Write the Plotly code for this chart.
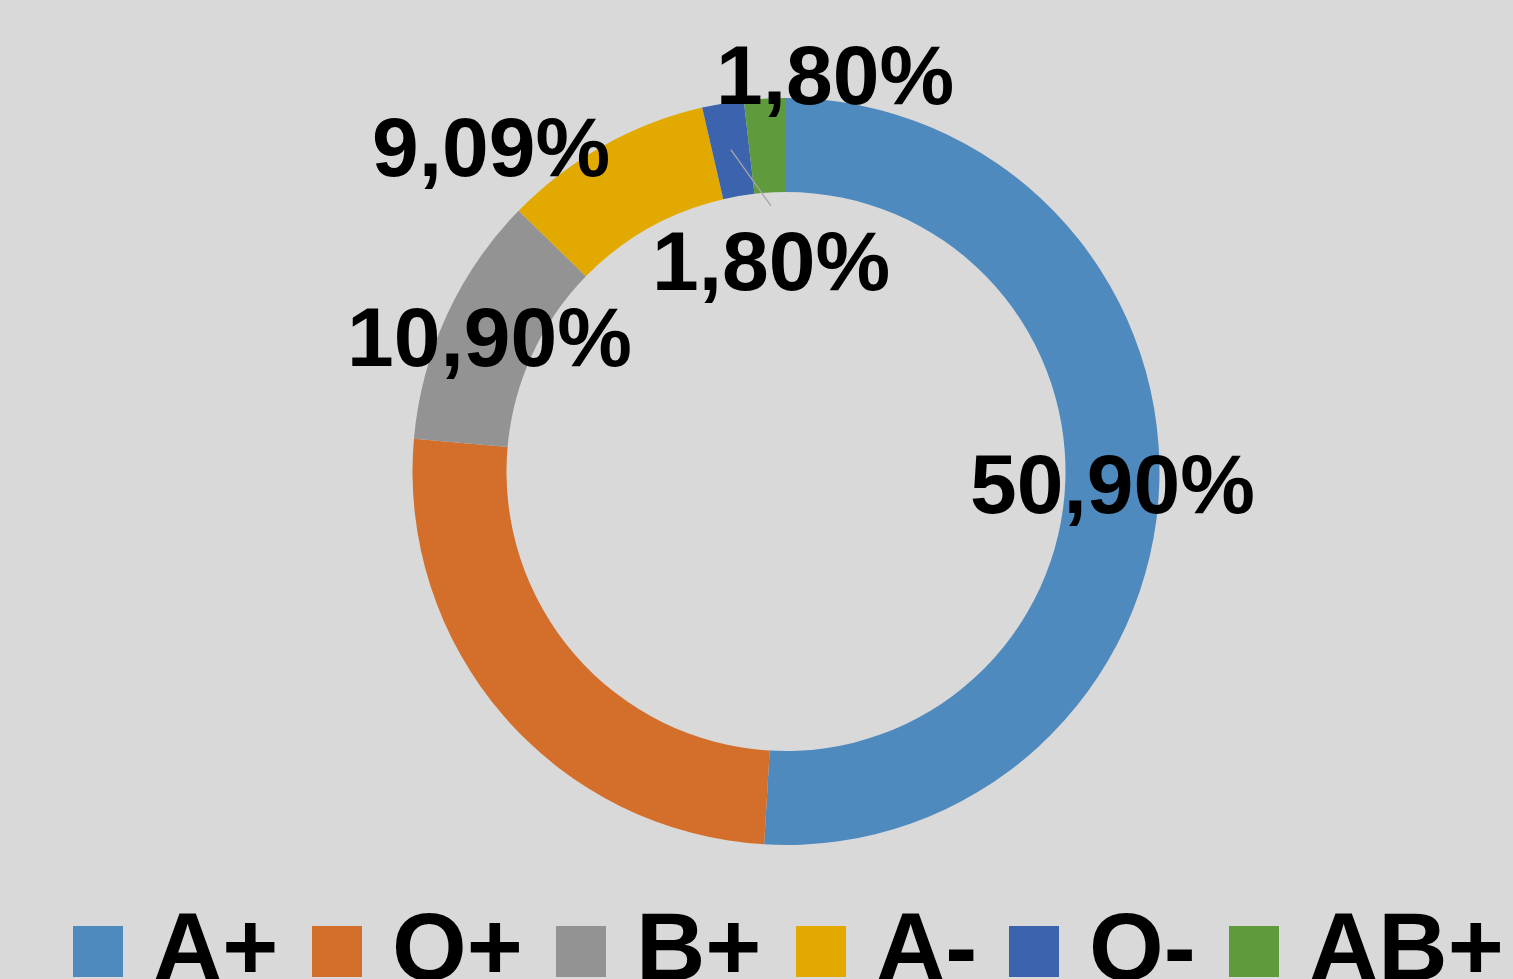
import math
import plotly.graph_objects as go

# ---- data ----
groups = ["A+", "O+", "B+", "A-", "O-", "AB+"]
percentages = [50.90, 25.45, 10.90, 9.09, 1.80, 1.80]
show_label = [True, False, True, True, True, True]

# ---- style ----
colors = ["#4F8ABE", "#D36F2B", "#939393", "#E2AA00", "#3C64AE", "#5F9A3D"]
BG = "#D9D9D9"
FONT = "Liberation Sans, Arial, sans-serif"
W, H = 1513, 979
CX, CY = 786, 471.5          # ring centre (px)
R_OUT, R_IN = 373.5, 279.5   # ring radii (px)
LABEL_SIZE = 84
LEGEND_SIZE = 96
# label nudges (px) from the mid-ring anchor of each slice
label_nudge = [(0, 3), (0, 0), (0, 2), (-135, -40), (40, 111), (67, -71)]
leader = [False, False, False, False, True, False]
legend_square_x = [73, 312, 556, 796, 1009, 1229]
legend_text_gap = 78
SQ = 50


def px_to_paper(x, y):
    return x / W, 1 - y / H


fig = go.Figure()
fig.add_trace(go.Pie(
    labels=groups,
    values=percentages,
    hole=R_IN / R_OUT,
    sort=False,
    direction="clockwise",
    rotation=0,
    marker=dict(colors=colors, line=dict(width=0)),
    textinfo="none",
    hoverinfo="label+value",
    showlegend=False,
    domain=dict(x=[(CX - R_OUT) / W, (CX + R_OUT) / W],
                y=[1 - (CY + R_OUT) / H, 1 - (CY - R_OUT) / H]),
))

annotations = []
shapes = []
total = sum(percentages)
cum = 0.0
r_mid = (R_OUT + R_IN) / 2
for i, (g, v) in enumerate(zip(groups, percentages)):
    mid = (cum + v / 2) / total * 2 * math.pi
    cum += v
    ax = CX + r_mid * math.sin(mid)
    ay = CY - r_mid * math.cos(mid)
    if not show_label[i]:
        continue
    dx, dy = label_nudge[i]
    lx, ly = ax + dx, ay + dy
    txt = f"{v:.2f}%".replace(".", ",")
    px, py = px_to_paper(lx, ly)
    annotations.append(dict(
        x=px, y=py, xref="paper", yref="paper", text=f"<b>{txt}</b>",
        showarrow=False, xanchor="center", yanchor="middle",
        font=dict(family=FONT, size=LABEL_SIZE, color="black"),
    ))
    if leader[i]:
        x0, y0 = px_to_paper(ax, ay)
        x1, y1 = px_to_paper(lx, ly - 55)
        shapes.append(dict(type="line", xref="paper", yref="paper",
                           x0=x0, y0=y0, x1=x1, y1=y1,
                           line=dict(color="#A6A6A6", width=1.3)))

# ---- manual legend ----
sq_top, sq_bot = 926, 977
baseline = 980
for i, g in enumerate(groups):
    sx = legend_square_x[i]
    x0, y0 = px_to_paper(sx, sq_bot)
    x1, y1 = px_to_paper(sx + SQ, sq_top)
    shapes.append(dict(type="rect", xref="paper", yref="paper",
                       x0=x0, y0=y0, x1=x1, y1=y1,
                       fillcolor=colors[i], line=dict(width=0)))
    tx, ty = px_to_paper(sx + legend_text_gap, baseline - 0.3465 * LEGEND_SIZE)
    annotations.append(dict(
        x=tx, y=ty, xref="paper", yref="paper", text=f"<b>{g}</b>",
        showarrow=False, xanchor="left", yanchor="middle",
        font=dict(family=FONT, size=LEGEND_SIZE, color="black"),
    ))

fig.update_layout(
    width=W, height=H,
    margin=dict(l=0, r=0, t=0, b=0),
    paper_bgcolor=BG, plot_bgcolor=BG,
    annotations=annotations, shapes=shapes,
    showlegend=False,
)

fig.write_html("out.html")
